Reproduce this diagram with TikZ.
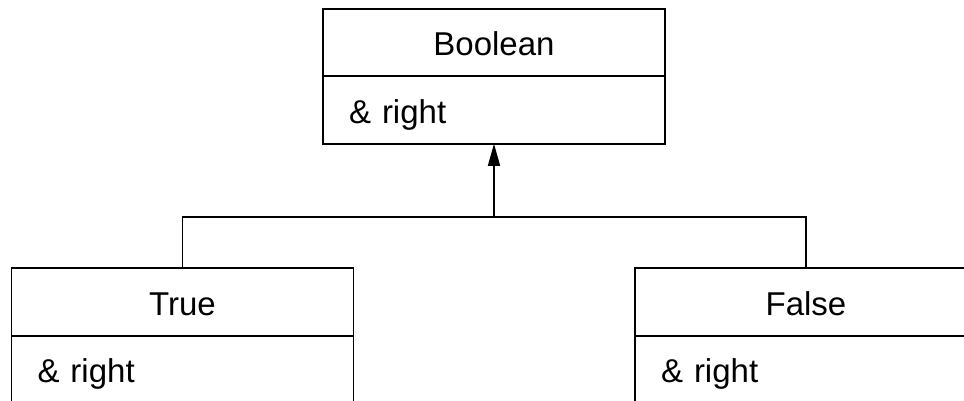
\documentclass[tikz,border=0pt]{standalone}
\usepackage{fontspec}
\setmainfont{Liberation Sans}
\usetikzlibrary{positioning, arrows.meta}

\tikzset{
  classbox/.style={draw, line width=1.8pt, outer sep=0pt, minimum width=342pt,
    minimum height=67.5pt, text height=26pt, text depth=0pt,
    font=\fontsize{33}{40}\selectfont},
  classtitle/.style={classbox, inner sep=0pt},
  classbody/.style={classbox, inner ysep=0pt, inner xsep=26pt, text width=290pt, align=left}
}

\begin{document}
\begin{tikzpicture}[x=1pt, y=-1pt]
        \clip (0,0) rectangle (964,400);
        % superclass
        \node[classtitle] (boolTitle) at (494,42.5) {Boolean};
        \node[classbody, below=0pt of boolTitle] (boolBody) {\& right};
        % subclasses
        \node[classtitle] (trueTitle) at (182.5,302) {True};
        \node[classbody, below=0pt of trueTitle] (trueBody) {\& right};
        \node[classtitle] (falseTitle) at (806,302) {False};
        \node[classbody, below=0pt of falseTitle] (falseBody) {\& right};
        % generalisation
        \coordinate (join) at (494,217);
        \draw[line width=1.5pt] (trueTitle.north) |- (join) -| (falseTitle.north);
        \draw[line width=1.5pt, -{Triangle[length=22pt, width=12pt]}] (join) -- (boolBody.south);
      \end{tikzpicture}
\end{document}
